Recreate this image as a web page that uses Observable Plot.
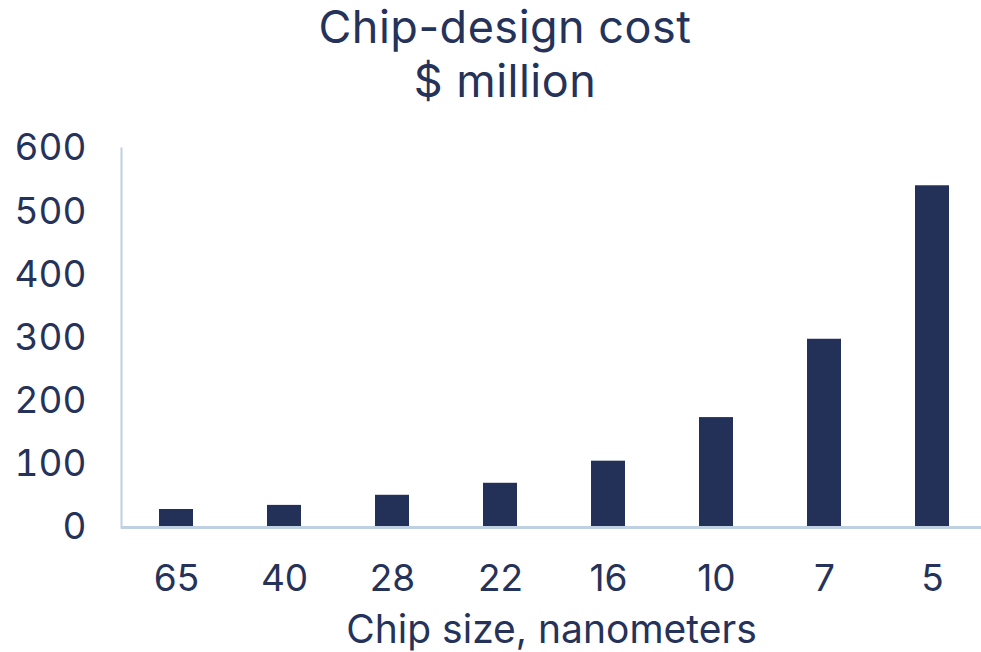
<!DOCTYPE html>
<html>
<head>
<meta charset="utf-8">
<script src="https://cdn.jsdelivr.net/npm/d3@7"></script>
<script src="https://cdn.jsdelivr.net/npm/@observablehq/plot@0.6"></script>
<style>
  html, body { margin: 0; padding: 0; background: #fff; }
  body { width: 981px; height: 652px; overflow: hidden; font-family: Inter, "Noto Sans", sans-serif; color: #253259; }
  #title { height: 110px; box-sizing: border-box; padding-top: 0px; padding-left: 29px; text-align: center; font-size: 45px; line-height: 54px; font-weight: 400; letter-spacing: 0.5px; }
  #chart svg { display: block; }
</style>
</head>
<body>
<div id="title">Chip-design cost<br>$ million</div>
<div id="chart"></div>
<script>
const sizes = ["65", "40", "28", "22", "16", "10", "7", "5"];
const costs = [28.5, 35, 51, 70, 105, 174, 298, 541];
const yTicks = [0, 100, 200, 300, 400, 500, 600];
const xLabel = "Chip size, nanometers";

const data = sizes.map((s, i) => ({size: s, cost: costs[i]}));

const navy = "#233159";
const axisColor = "#bed0e2";
const textColor = "#253259";

const plot = Plot.plot({
  width: 981,
  height: 542,
  marginTop: 38,
  marginBottom: 125,
  marginLeft: 121,
  marginRight: 0,
  style: {fontFamily: "Inter, 'Noto Sans', sans-serif", color: textColor, background: "#fff", overflow: "visible"},
  x: {domain: sizes, range: [121, 987], paddingInner: 0.685, paddingOuter: 0.3425, label: null},
  y: {domain: [0, 600], ticks: yTicks, label: null},
  marks: [
    Plot.barY(data, {x: "size", y: "cost", fill: navy}),
    Plot.frame({anchor: "left", stroke: axisColor, strokeWidth: 2, strokeOpacity: 1}),
    Plot.ruleY([0], {stroke: axisColor, strokeWidth: 3, strokeOpacity: 1}),
    Plot.axisY({ticks: yTicks, tickSize: 0, tickPadding: 35, fontSize: 37, fill: textColor, label: null}),
    Plot.axisX({tickSize: 0, tickPadding: 37, fontSize: 37, fill: textColor, label: null}),
    Plot.text([xLabel], {frameAnchor: "bottom", dy: 103, text: d => d, fontSize: 39, fill: textColor, lineAnchor: "middle", style: "letter-spacing: 0.6px"})
  ]
});
document.getElementById("chart").appendChild(plot);
</script>
</body>
</html>
